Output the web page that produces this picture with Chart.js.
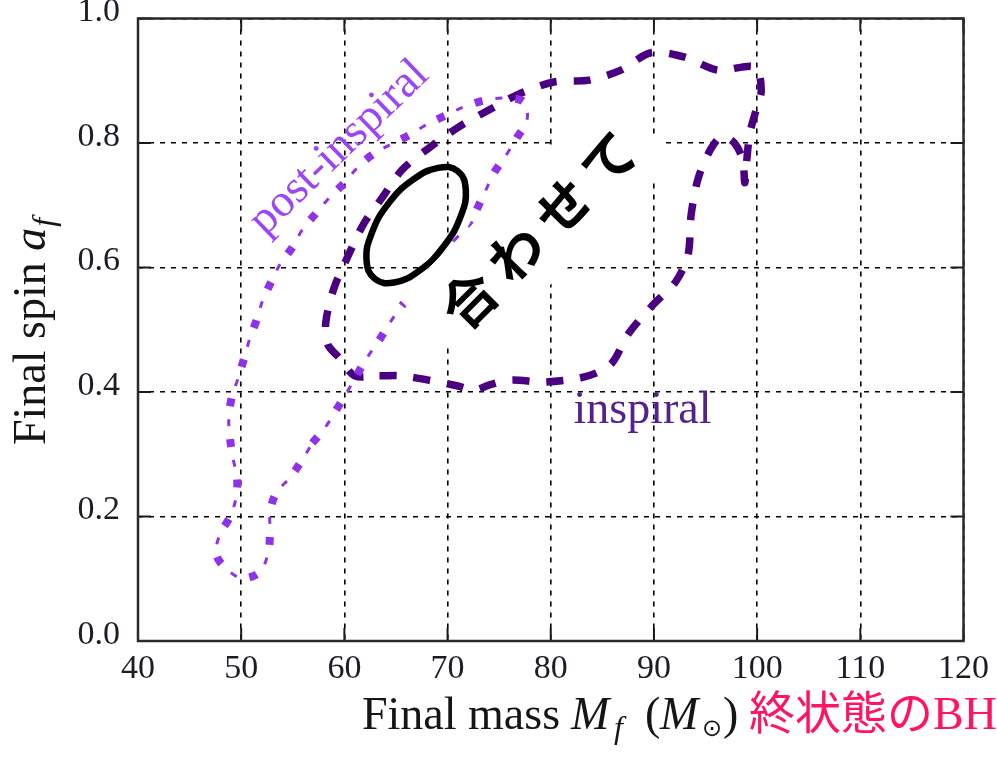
<!DOCTYPE html>
<html>
<head>
<meta charset="utf-8">
<script src="https://cdn.jsdelivr.net/npm/chart.js@4.4.1/dist/chart.umd.min.js"></script>
<style>
  html, body { margin: 0; padding: 0; background: #fff; overflow: hidden; width: 997px; height: 764px; }
  #wrap { position: absolute; left: 0; top: -20px; width: 997px; height: 784px; }
</style>
</head>
<body>
<div id="wrap"><canvas id="c" width="997" height="784"></canvas></div>
<script>
// Axis ticks
const massTicks = [40, 50, 60, 70, 80, 90, 100, 110, 120];
const spinTicks = [0.0, 0.2, 0.4, 0.6, 0.8, 1.0];
const spinTickLabels = ['0.0', '0.2', '0.4', '0.6', '0.8', '1.0'];

// 90% credible contour from the inspiral part of the signal
const inspiralMass = [59.5, 61.0, 63.4, 65.6, 68.5, 70.9, 72.6, 74.0, 76.1, 79.3,
                      82.7, 84.6, 86.0, 87.5, 89.8, 92.1, 93.3, 93.6, 94.3, 95.5,
                      96.6, 97.8, 98.6, 98.8, 99.0, 99.3, 99.9, 100.4, 99.8, 96.2,
                      93.0, 89.7, 86.8, 83.7, 80.3, 77.1, 74.0, 71.1, 68.2, 65.6,
                      63.7, 61.9, 60.4, 59.0, 58.2, 58.4];
const inspiralSpin = [0.455, 0.426, 0.426, 0.426, 0.418, 0.410, 0.403, 0.411, 0.419, 0.416,
                      0.422, 0.432, 0.448, 0.493, 0.538, 0.577, 0.620, 0.684, 0.744, 0.790,
                      0.811, 0.800, 0.773, 0.736, 0.773, 0.816, 0.853, 0.885, 0.922, 0.917,
                      0.938, 0.945, 0.917, 0.901, 0.898, 0.880, 0.853, 0.826, 0.792, 0.757,
                      0.713, 0.671, 0.620, 0.567, 0.512, 0.476];

// 90% credible contour from the post-inspiral part
const postMass = [77.4, 75.5, 73.7, 71.6, 69.9, 67.9, 66.3, 64.4, 62.7, 61.3,
                  60.0, 58.6, 57.3, 55.9, 55.0, 53.9, 53.0, 52.1, 51.5, 50.8,
                  50.3, 49.7, 49.1, 48.8, 48.9, 49.2, 49.6, 49.5, 48.9, 47.9,
                  47.6, 48.7, 50.1, 51.8, 52.6, 52.8, 52.8, 53.4, 54.7, 55.8,
                  56.9, 58.1, 59.2, 60.2, 61.2, 62.2, 63.4, 64.4, 65.5, 67.7,
                  70.1, 72.1, 72.8, 73.7, 74.5, 75.7, 76.7, 77.7];
const postSpin = [0.866, 0.872, 0.869, 0.858, 0.845, 0.829, 0.813, 0.797, 0.781, 0.761,
                  0.736, 0.713, 0.688, 0.660, 0.633, 0.609, 0.580, 0.548, 0.516, 0.484,
                  0.455, 0.422, 0.392, 0.360, 0.328, 0.294, 0.262, 0.230, 0.199, 0.170,
                  0.138, 0.114, 0.101, 0.111, 0.141, 0.175, 0.207, 0.238, 0.262, 0.288,
                  0.318, 0.342, 0.371, 0.398, 0.427, 0.455, 0.484, 0.511, 0.537, 0.580,
                  0.628, 0.665, 0.692, 0.724, 0.752, 0.781, 0.808, 0.837];

// Combined (inspiral + post-inspiral) estimate
const jointMass = [70.97, 71.76, 71.27, 69.63, 67.27, 64.82, 62.95, 62.15, 62.65, 64.28, 66.65, 69.09];
const jointSpin = [0.755, 0.726, 0.682, 0.634, 0.595, 0.576, 0.582, 0.611, 0.655, 0.703, 0.741, 0.760];

// Annotation anchors (data coordinates)
const captionText = '合わせて';
const captionAt = [78.74, 0.663];
const postLabelAt = [59.52, 0.792];
const inspiralLabelAt = [82.2, 0.350];

const SERIF = "'Liberation Serif','DejaVu Serif',serif";
const CJK = "'Noto Sans CJK JP','Noto Sans CJK SC',sans-serif";

// Closed contour starting at a given vertex (start chosen on a straight stretch)
function closed(xs, ys, start) {
  const n = xs.length, out = [];
  for (let k = 0; k <= n; k++) {
    const i = (start + k) % n;
    out.push({ x: xs[i], y: ys[i] });
  }
  return out;
}
// Solid contour: wrap neighbours so the spline closes smoothly, hide helper segments
function wrapped(xs, ys) {
  const n = xs.length;
  const pts = xs.map((v, i) => ({ x: v, y: ys[i] }));
  return [pts[n - 1], ...pts, pts[0], pts[1]];
}

const inspiralData = closed(inspiralMass, inspiralSpin, 2);
const postSquares = closed(postMass, postSpin, 40);
const postDashes = closed(postMass, postSpin, 40);
const jointData = wrapped(jointMass, jointSpin);

const POST_COLOR = '#9032e8';

const overlay = {
  id: 'overlay',
  afterDatasetsDraw(chart) {
    const { ctx, chartArea: a, scales: { x, y } } = chart;

    // caption panel over the combined estimate
    ctx.save();
    ctx.translate(x.getPixelForValue(captionAt[0]), y.getPixelForValue(captionAt[1]));
    ctx.rotate(-Math.PI / 4);
    ctx.fillStyle = '#fff';
    ctx.fillRect(-148, -49, 296, 98);
    ctx.fillStyle = '#000';
    ctx.font = `bold 54px ${CJK}`;
    ctx.textAlign = 'center';
    ctx.textBaseline = 'middle';
    const chars = Array.from(captionText);
    chars.forEach((ch, i) => ctx.fillText(ch, (i - (chars.length - 1) / 2) * 66, 2));
    ctx.restore();

    // contour labels
    ctx.save();
    ctx.translate(x.getPixelForValue(postLabelAt[0]), y.getPixelForValue(postLabelAt[1]));
    ctx.rotate(-44 * Math.PI / 180);
    ctx.font = `46px ${SERIF}`;
    ctx.fillStyle = '#9b45f5';
    ctx.textAlign = 'center';
    ctx.textBaseline = 'middle';
    ctx.fillText('post-inspiral', 0, 0);
    ctx.restore();

    ctx.save();
    ctx.font = `46px ${SERIF}`;
    ctx.fillStyle = '#55218f';
    ctx.textAlign = 'left';
    ctx.textBaseline = 'alphabetic';
    ctx.fillText('inspiral', x.getPixelForValue(inspiralLabelAt[0]), y.getPixelForValue(inspiralLabelAt[1]));
    ctx.restore();

    // frame with inward ticks on all four sides
    ctx.save();
    ctx.strokeStyle = '#1a1a1a';
    ctx.lineWidth = 2;
    const seg = (x1, y1, x2, y2) => { ctx.beginPath(); ctx.moveTo(x1, y1); ctx.lineTo(x2, y2); ctx.stroke(); };
    massTicks.forEach(v => {
      const px = x.getPixelForValue(v);
      seg(px, a.bottom, px, a.bottom - 13);
      seg(px, a.top, px, a.top + 13);
    });
    spinTicks.forEach(v => {
      const py = y.getPixelForValue(v);
      seg(a.left, py, a.left + 13, py);
      seg(a.right, py, a.right - 13, py);
    });
    ctx.strokeStyle = '#2a2a2a';
    ctx.lineWidth = 2.5;
    ctx.strokeRect(a.left, a.top, a.right - a.left, a.bottom - a.top);
    ctx.restore();

    // x-axis title, each piece at its own position
    ctx.save();
    ctx.textBaseline = 'alphabetic';
    ctx.textAlign = 'left';
    const base = a.bottom + 88;
    const ink = '#151515';
    const put = (t, font, color, px, dy) => {
      ctx.font = font; ctx.fillStyle = color;
      ctx.fillText(t, px, base + (dy || 0));
      return px + ctx.measureText(t).width;
    };
    put('Final mass', `46px ${SERIF}`, ink, 362);
    put('M', `italic 46px ${SERIF}`, ink, 571);
    put('f', `italic 32px ${SERIF}`, ink, 614, 9);
    put('(', `46px ${SERIF}`, ink, 645);
    put('M', `italic 46px ${SERIF}`, ink, 660);
    put('⊙', `24px 'DejaVu Sans',sans-serif`, ink, 702, 7);
    put(')', `46px ${SERIF}`, ink, 723);
    const endCjk = put('終状態の', `46px ${CJK}`, '#ff1464', 749);
    put('BH', `46px ${SERIF}`, '#ff1464', endCjk);
    ctx.restore();

    // y-axis title
    ctx.save();
    ctx.translate(a.left - 93, a.top + 426.5);
    ctx.rotate(-Math.PI / 2);
    ctx.textBaseline = 'alphabetic';
    ctx.textAlign = 'left';
    ctx.fillStyle = ink;
    ctx.font = `46px ${SERIF}`;
    const w1 = ctx.measureText('Final spin ').width;
    ctx.fillText('Final spin ', 0, 0);
    ctx.font = `italic 46px ${SERIF}`;
    ctx.fillText('a', w1, 0);
    const w2 = ctx.measureText('a').width;
    ctx.font = `italic 32px ${SERIF}`;
    ctx.fillText('f', w1 + w2 + 1, 9);
    ctx.restore();
  }
};

new Chart(document.getElementById('c'), {
  type: 'scatter',
  data: {
    datasets: [
      {
        label: 'post-inspiral',
        data: postSquares,
        showLine: true,
        borderColor: POST_COLOR,
        borderWidth: 8,
        borderDash: [8, 33],
        borderCapStyle: 'butt',
        tension: 0.35,
        pointRadius: 0,
        fill: false
      },
      {
        label: 'post-inspiral ',
        data: postDashes,
        showLine: true,
        borderColor: POST_COLOR,
        borderWidth: 3,
        borderDash: [7, 34],
        borderDashOffset: 20,
        borderCapStyle: 'butt',
        tension: 0.35,
        pointRadius: 0,
        fill: false
      },
      {
        label: 'inspiral',
        data: inspiralData,
        showLine: true,
        borderColor: '#4b0082',
        borderWidth: 7.5,
        borderDash: [17, 17],
        borderCapStyle: 'butt',
        tension: 0.3,
        pointRadius: 0,
        fill: false
      },
      {
        label: 'combined',
        data: jointData,
        showLine: true,
        borderColor: '#000',
        borderWidth: 6.5,
        tension: 0.45,
        pointRadius: 0,
        fill: false,
        segment: {
          borderColor: c => (c.p0DataIndex === 0 || c.p0DataIndex === jointData.length - 2) ? 'rgba(0,0,0,0)' : undefined
        }
      }
    ]
  },
  options: {
    responsive: false,
    devicePixelRatio: 1,
    animation: false,
    events: [],
    layout: { padding: { top: 38.5, right: 31, bottom: 0, left: 0 } },
    plugins: { legend: { display: false }, tooltip: { enabled: false }, title: { display: false } },
    scales: {
      x: {
        type: 'linear',
        min: 40, max: 120,
        afterBuildTicks: s => { s.ticks = massTicks.map(v => ({ value: v })); },
        afterFit: s => { s.height = 123; },
        grid: { color: '#000', lineWidth: 1.6, drawTicks: false },
        border: { display: false, dash: [5, 6] },
        ticks: {
          autoSkip: false, maxRotation: 0, padding: 8,
          color: '#1c1c26',
          font: { family: SERIF, size: 34 },
          callback: (v, i) => String(massTicks[i])
        }
      },
      y: {
        type: 'linear',
        min: 0, max: 1,
        afterBuildTicks: s => { s.ticks = spinTicks.map(v => ({ value: v })); },
        afterFit: s => { s.width = 138; },
        grid: { color: '#000', lineWidth: 1.6, drawTicks: false },
        border: { display: false, dash: [5, 6] },
        ticks: {
          autoSkip: false, padding: 18, labelOffset: -6,
          color: '#1c1c26',
          font: { family: SERIF, size: 34 },
          callback: (v, i) => spinTickLabels[i]
        }
      }
    }
  },
  plugins: [overlay]
});
</script>
</body>
</html>
